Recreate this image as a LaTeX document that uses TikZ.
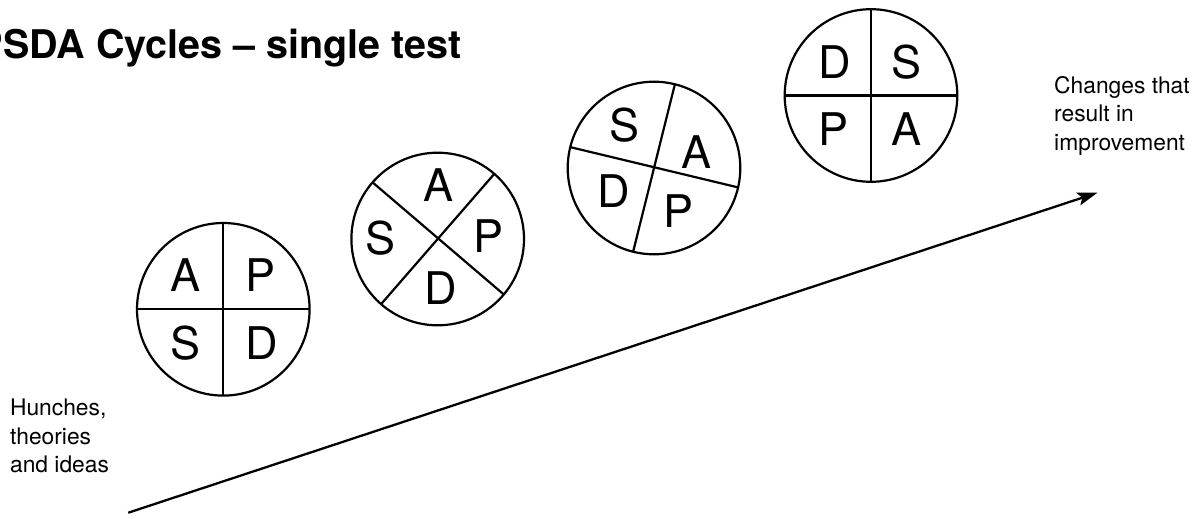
\documentclass[tikz,border=0pt]{standalone}
\usepackage{fontspec}
\setmainfont{TeX Gyre Heros}
\usetikzlibrary{arrows.meta}
\tikzset{
  ring/.style={circle, draw, line width=2.2pt, minimum size=172.6pt, inner sep=0pt, outer sep=0pt},
  divider/.style={line width=2.2pt},
  quad/.style={inner sep=0pt, font=\fontsize{45}{45}\selectfont},
  note/.style={inner sep=0pt, align=left, anchor=north west, font=\fontsize{22.8}{28.6}\selectfont},
  headline/.style={inner sep=0pt, anchor=base west, font=\bfseries\fontsize{39.5}{39.5}\selectfont},
  progress/.style={line width=2.3pt, -{Stealth[length=20pt,width=13pt,inset=4pt]}}
}
\begin{document}
\begin{tikzpicture}[x=1pt,y=-1pt]
\useasboundingbox (0,0) rectangle (1203,519);
\clip (0,0) rectangle (1203,519);

% title
\node[headline] (title) at (-23.5,59) {PSDA Cycles – single test};

% circle 1
\node[ring] (c1) at (223.3,309.3) {};
\draw[divider] (c1.north) -- (c1.south) (c1.west) -- (c1.east);
\node[quad] (c1a) at (185.7,275.5) {A};
\node[quad] (c1p) at (260.5,275.5) {P};
\node[quad] (c1s) at (185.7,343) {S};
\node[quad] (c1d) at (262,343) {D};

% circle 2
\node[ring] (c2) at (437.7,239) {};
\draw[divider] (c2.49.5) -- (c2.229.5) (c2.139.5) -- (c2.-40.5);
\node[quad] (c2a) at (438.3,185) {A};
\node[quad] (c2s) at (381,238.5) {S};
\node[quad] (c2p) at (489,236) {P};
\node[quad] (c2d) at (440.7,288.3) {D};

% circle 3
\node[ring] (c3) at (654,168) {};
\draw[divider] (c3.76.5) -- (c3.256.5) (c3.166.5) -- (c3.-13.5);
\node[quad] (c3s) at (625,125) {S};
\node[quad] (c3a) at (696.7,151.7) {A};
\node[quad] (c3d) at (614,190.7) {D};
\node[quad] (c3p) at (678.3,210.7) {P};

% circle 4
\node[ring] (c4) at (871,95.5) {};
\draw[divider] (c4.north) -- (c4.south) (c4.west) -- (c4.east);
\node[quad] (c4d) at (835,61.7) {D};
\node[quad] (c4s) at (906.7,61.7) {S};
\node[quad] (c4p) at (833.3,128.8) {P};
\node[quad] (c4a) at (906.7,129.5) {A};

% notes
\node[note] (hunches) at (9.9,398.6) {Hunches,\\theories\\and ideas};
\node[note] (changes) at (1054,75.8) {Changes that\\result in\\improvement};

% arrow
\coordinate (from) at (128.3,512.7);
\coordinate (to) at (1097.5,192.7);
\draw[progress] (from) -- (to);
\end{tikzpicture}
\end{document}
